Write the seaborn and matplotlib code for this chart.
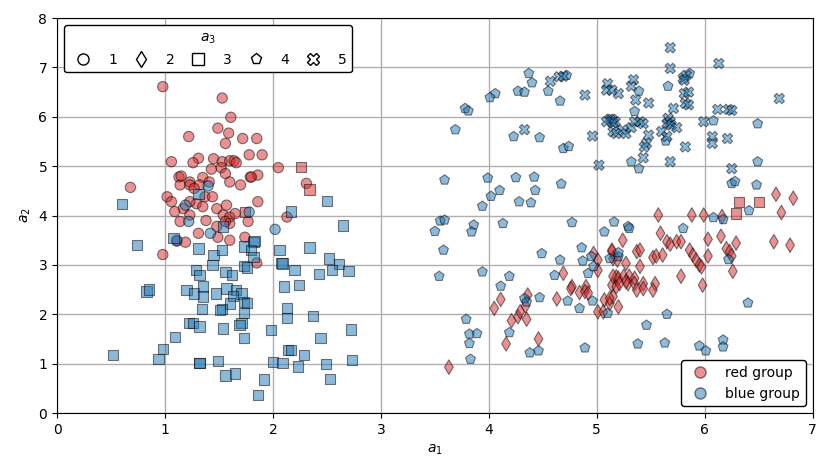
import pandas as pd
import numpy as np
import matplotlib.pyplot as plt
import seaborn as sns
from matplotlib.lines import Line2D

# red group, a3 = 1 (circles)
red_circle_x = [0.98, 1.53, 1.61, 1.49, 1.59, 1.22, 1.72, 1.85, 1.56, 1.78, 1.90, 1.06, 1.31, 1.26, 1.45,
                1.53, 1.60, 1.64, 1.66, 2.05, 1.43, 1.52, 1.56, 1.13, 1.23, 1.35, 1.41, 1.60, 1.79, 1.86,
                1.70, 1.14, 0.68, 1.23, 1.32, 1.02, 1.06, 1.37, 1.44, 1.29, 1.23, 1.17, 1.09, 1.35, 1.48,
                1.57, 1.86, 1.23, 1.14, 1.38, 1.54, 1.60, 1.65, 1.60, 1.56, 1.77, 1.48, 2.13, 1.31, 1.49,
                1.60, 1.74, 1.11, 1.19, 0.98, 1.85, 2.31, 1.80, 1.15, 1.27]
red_circle_y = [6.61, 6.38, 5.99, 5.77, 5.67, 5.60, 5.56, 5.56, 5.46, 5.23, 5.23, 5.09, 5.16, 5.07, 5.15,
                5.09, 5.11, 5.11, 5.07, 4.97, 4.94, 4.97, 4.85, 4.78, 4.68, 4.77, 4.68, 4.68, 4.78, 4.82,
                4.62, 4.62, 4.57, 4.62, 4.62, 4.38, 4.28, 4.38, 4.38, 4.24, 4.28, 4.14, 4.08, 4.18, 4.14,
                4.21, 4.28, 4.01, 3.88, 3.90, 4.01, 3.97, 4.04, 3.84, 3.88, 3.88, 3.78, 3.97, 3.64, 3.56,
                3.50, 3.56, 3.48, 3.46, 3.21, 3.04, 4.65, 4.78, 4.80, 4.55]

# red group, a3 = 2 (diamonds)
red_diamond_x = [4.69, 4.77, 4.90, 5.01, 5.01, 4.97, 5.14, 5.15, 5.18, 5.14, 4.11, 4.05, 4.36, 4.34, 4.21,
                 4.27, 4.35, 4.29, 4.16, 4.46, 3.63, 4.63, 4.76, 4.84, 4.89, 4.92, 5.01, 5.07, 5.12, 5.15,
                 5.18, 6.66, 6.82, 6.71, 5.57, 5.88, 5.99, 6.16, 5.24, 5.59, 5.65, 5.68, 5.74, 5.78, 6.03,
                 6.15, 6.29, 6.20, 6.23, 6.64, 6.79, 6.25, 5.86, 5.89, 5.92, 5.95, 5.97, 6.03, 6.26, 5.37,
                 5.40, 5.52, 5.55, 5.61, 5.14, 5.19, 5.27, 5.40, 5.78, 5.15, 5.20, 5.25, 5.30, 5.35, 5.21,
                 5.29, 5.35, 5.43, 5.54, 5.98, 5.12, 5.20, 5.06, 5.27, 5.37, 5.43, 5.52]
red_diamond_y = [2.83, 2.56, 2.56, 3.10, 2.89, 3.23, 3.27, 3.13, 2.76, 2.59, 2.30, 2.12, 2.39, 2.17, 1.87,
                 1.95, 1.90, 2.05, 1.40, 1.50, 0.93, 2.31, 2.52, 2.44, 2.46, 2.43, 2.05, 2.29, 2.22, 2.36,
                 2.56, 4.43, 4.35, 4.06, 4.01, 4.01, 4.01, 3.98, 3.50, 3.64, 3.47, 3.42, 3.47, 3.47, 3.52,
                 3.58, 3.44, 3.33, 3.27, 3.47, 3.40, 3.18, 3.30, 3.20, 3.10, 3.00, 2.96, 3.18, 2.87, 3.27,
                 3.30, 3.15, 3.18, 3.20, 3.30, 3.10, 3.03, 2.97, 2.77, 2.77, 2.73, 2.77, 2.77, 2.73, 2.62,
                 2.62, 2.62, 2.62, 2.62, 2.59, 2.32, 2.15, 2.05, 2.66, 2.49, 2.52, 2.49]

# red group, a3 = 3 (squares)
red_square_x = [2.26, 2.34, 1.74, 6.32, 6.50, 6.29]
red_square_y = [4.99, 4.53, 4.07, 4.28, 4.28, 4.04]

# blue group, a3 = 1 (circles)
blue_circle_x = [1.19, 1.40, 1.22, 1.42, 2.02, 1.78, 1.11]
blue_circle_y = [4.21, 4.60, 3.88, 3.64, 3.72, 4.07, 3.50]

# blue group, a3 = 3 (squares)
blue_square_x = [1.31, 1.54, 1.08, 0.74, 0.60, 1.31, 1.45, 1.53, 1.73, 1.82, 1.80, 1.82, 1.73, 1.76, 1.44,
                 1.29, 1.32, 1.56, 1.62, 2.06, 2.08, 0.83, 0.85, 1.20, 1.27, 1.35, 1.35, 1.47, 1.57, 1.66,
                 1.71, 1.63, 1.60, 1.53, 1.51, 1.73, 1.76, 1.73, 1.71, 1.69, 1.34, 1.22, 1.26, 1.32, 1.54,
                 1.73, 1.09, 0.98, 0.94, 0.52, 1.32, 1.49, 1.56, 1.65, 1.98, 2.10, 2.13, 2.13, 2.00, 2.09,
                 1.92, 1.86, 2.14, 2.50, 2.17, 2.65, 1.83, 2.34, 2.09, 2.20, 2.52, 2.61, 2.70, 2.55, 2.43,
                 2.24, 2.37, 2.72, 2.44, 2.17, 2.29, 2.23, 2.49, 2.73, 2.53, 1.32]
blue_square_y = [4.43, 3.78, 3.54, 3.40, 4.23, 3.33, 3.20, 3.30, 3.37, 3.47, 3.30, 3.16, 2.98, 2.95, 3.00,
                 2.89, 2.79, 2.86, 2.79, 3.30, 3.04, 2.46, 2.50, 2.49, 2.42, 2.56, 2.36, 2.42, 2.52, 2.49,
                 2.42, 2.37, 2.22, 2.10, 2.09, 2.25, 2.23, 2.02, 1.82, 1.78, 2.10, 1.83, 1.83, 1.75, 1.71,
                 1.52, 1.54, 1.29, 1.09, 1.17, 1.01, 1.05, 0.76, 0.80, 1.68, 2.56, 2.12, 1.92, 1.04, 1.02,
                 0.68, 0.36, 1.28, 4.30, 4.08, 3.80, 3.49, 3.35, 3.03, 2.89, 3.13, 3.02, 2.88, 2.89, 2.81,
                 2.59, 1.97, 1.69, 1.52, 1.28, 1.17, 0.94, 0.99, 1.07, 0.69, 1.02]

# blue group, a3 = 4 (pentagons)
blue_pent_x = [4.37, 4.40, 4.27, 4.33, 4.55, 4.66, 4.72, 4.06, 4.01, 3.78, 3.81, 3.69, 4.23, 4.47, 4.69,
               4.74, 3.59, 3.99, 4.25, 4.42, 4.67, 4.10, 4.43, 4.02, 4.28, 4.39, 3.94, 3.55, 3.59, 3.50,
               3.86, 3.84, 4.13, 4.77, 5.16, 5.07, 3.58, 4.49, 4.66, 4.86, 4.87, 3.54, 3.94, 4.19, 4.61,
               4.92, 4.11, 4.95, 4.97, 5.20, 4.33, 4.35, 4.47, 4.19, 4.38, 4.46, 3.79, 3.82, 3.89, 3.82,
               3.83, 4.73, 4.84, 4.96, 4.89, 5.10, 6.25, 6.28, 6.48, 6.41, 6.08, 6.17, 5.29, 5.30, 5.80,
               6.22, 5.12, 5.20, 6.40, 5.65, 5.46, 5.38, 5.63, 5.95, 6.01, 6.17, 6.17, 5.66, 5.39, 5.35,
               5.64, 5.32, 5.39, 6.08, 6.49, 6.49, 5.86]
blue_pent_y = [6.88, 6.69, 6.52, 6.50, 6.52, 6.32, 6.84, 6.47, 6.39, 6.17, 6.12, 5.74, 5.60, 5.58, 5.36,
               5.40, 4.72, 4.76, 4.77, 4.78, 4.64, 4.51, 4.51, 4.39, 4.28, 4.26, 4.19, 3.89, 3.91, 3.68,
               3.81, 3.67, 3.84, 3.86, 3.87, 3.67, 3.30, 3.23, 3.10, 3.35, 3.08, 2.77, 2.86, 2.77, 2.79,
               2.83, 2.57, 3.17, 2.97, 3.17, 2.32, 2.25, 2.34, 1.63, 1.22, 1.26, 1.90, 1.60, 1.61, 1.41,
               1.09, 2.27, 2.12, 2.27, 1.32, 2.02, 4.65, 4.69, 4.62, 4.10, 3.96, 3.92, 3.78, 3.74, 3.74,
               3.11, 3.13, 3.25, 2.23, 2.00, 1.78, 1.40, 1.42, 1.36, 1.26, 1.48, 1.34, 6.62, 6.52, 6.11,
               5.51, 5.09, 4.95, 5.92, 5.86, 5.09, 6.88]

# blue group, a3 = 5 (crosses)
blue_x_x = [4.57, 4.65, 4.69, 4.89, 4.33, 4.96, 5.02, 5.12, 5.17, 5.15, 5.68, 5.68, 6.13, 5.80, 5.83,
            5.81, 5.10, 5.09, 5.20, 5.14, 5.34, 5.32, 5.36, 5.48, 5.81, 5.85, 5.82, 5.85, 5.71, 5.66,
            5.68, 5.65, 5.69, 5.60, 5.65, 5.74, 5.14, 5.15, 5.09, 5.18, 5.24, 5.27, 5.32, 5.35, 5.40,
            5.43, 5.48, 5.46, 5.44, 5.43, 5.68, 5.82, 5.99, 6.12, 6.22, 6.25, 6.69, 6.07, 6.07, 6.21,
            6.25]
blue_x_y = [6.72, 6.81, 6.82, 6.44, 5.74, 5.61, 5.02, 5.95, 5.90, 5.70, 7.40, 6.98, 7.08, 6.78, 6.84,
            6.74, 6.67, 6.54, 6.47, 6.54, 6.75, 6.62, 6.34, 6.28, 6.47, 6.50, 6.27, 6.24, 6.17, 5.97,
            5.90, 5.86, 5.83, 5.70, 5.60, 5.78, 5.95, 5.88, 5.90, 5.66, 5.73, 5.66, 5.78, 5.90, 5.90,
            5.86, 5.63, 5.46, 5.39, 5.17, 5.09, 5.39, 5.90, 6.15, 6.15, 6.13, 6.37, 5.60, 5.46, 5.56,
            4.95]

groups = ['red group', 'blue group']
a3_levels = [1, 2, 3, 4, 5]
markers = {1: 'o', 2: 'd', 3: 's', 4: 'p', 5: 'X'}
palette = {'red group': 'tab:red', 'blue group': 'tab:blue'}


def part(xs, ys, group, a3):
    return pd.DataFrame({'a1': xs, 'a2': ys, 'group': group, 'a3': a3})


df = pd.concat([
    part(red_circle_x, red_circle_y, 'red group', 1),
    part(red_diamond_x, red_diamond_y, 'red group', 2),
    part(red_square_x, red_square_y, 'red group', 3),
    part(blue_circle_x, blue_circle_y, 'blue group', 1),
    part(blue_square_x, blue_square_y, 'blue group', 3),
    part(blue_pent_x, blue_pent_y, 'blue group', 4),
    part(blue_x_x, blue_x_y, 'blue group', 5),
], ignore_index=True)

fig = plt.figure(figsize=(8.31, 4.75), dpi=100)
ax = fig.add_axes([0.0686, 0.1305, 0.9094, 0.8315])

sns.scatterplot(data=df, x='a1', y='a2', hue='group', style='a3', markers=markers,
                hue_order=groups, style_order=a3_levels, palette=palette,
                alpha=0.5, edgecolor='k', linewidth=0.8, s=55, legend=False, ax=ax, zorder=3)

ax.set_xlim(0, 7)
ax.set_ylim(0, 8)
ax.grid(True, color='#b0b0b0', linewidth=1)
ax.set_axisbelow(True)
ax.set_xlabel('$a_1$')
ax.set_ylabel('$a_2$')

# legend for a3 (marker style)
style_handles = [Line2D([], [], linestyle='none', marker=markers[k], markerfacecolor='white',
                        markeredgecolor='black', markersize=8) for k in a3_levels]
leg1 = ax.legend(style_handles, [str(k) for k in a3_levels], title='$a_3$', ncol=5,
                 loc='upper left', edgecolor='black', framealpha=1, columnspacing=0.7)
ax.add_artist(leg1)

# legend for groups (colour)
hue_handles = [Line2D([], [], linestyle='none', marker='o', markerfacecolor=palette[g], alpha=0.5,
                      markeredgecolor='k', markersize=8) for g in groups]
ax.legend(hue_handles, groups, loc='lower right', edgecolor='black', framealpha=1)

plt.savefig('out.png')
